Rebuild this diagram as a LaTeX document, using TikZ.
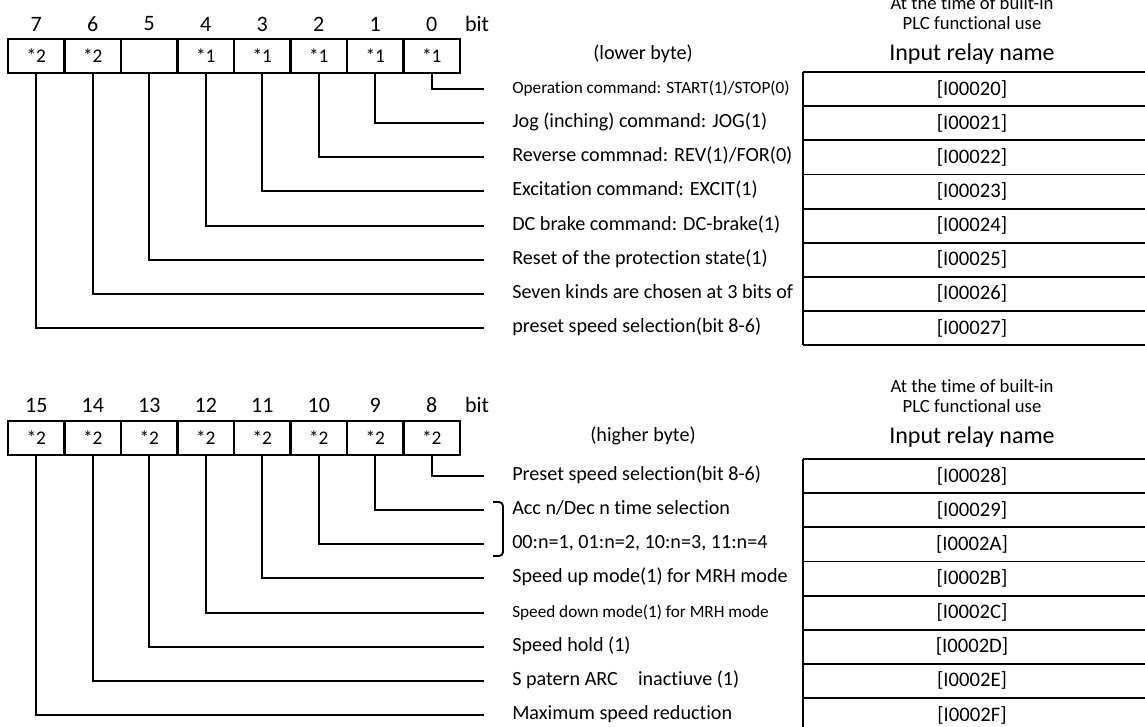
\documentclass[tikz,border=0pt]{standalone}
\usepackage{fontspec}
\setmainfont{Carlito}[Ligatures=NoCommon]
\usetikzlibrary{positioning}

\begin{document}
\begin{tikzpicture}[x=0.75pt,y=-0.75pt,
		cell/.style={rectangle,draw,line width=1.9pt,minimum width=42.4pt,minimum height=25.5pt,inner sep=0pt,font=\fontsize{14.5}{14.5}\selectfont},
		bitno/.style={font=\fontsize{16.5}{16.5}\selectfont},
		label text/.style={anchor=west,inner sep=0pt,text height=10pt,text depth=3pt,font=\fontsize{15.1}{15.1}\selectfont},
		small text/.style={label text,font=\fontsize{12.9}{12.9}\selectfont},
		relay/.style={font=\fontsize{15.5}{15.5}\selectfont},
		head/.style={align=center,font=\fontsize{14}{15.5}\selectfont},
		lead/.style={line width=1.4pt}]
		
		\useasboundingbox (0,0) rectangle (1145,727);
		\clip (0,0) rectangle (1145,727);
		
		% lower byte register
		\foreach \b/\t [count=\i from 0] in {7/*2,6/*2,5/,4/*1,3/*1,2/*1,1/*1,0/*1} {
			\node[cell] (c\b) at (36.25+56.5*\i,56) {\t};
			\node[bitno] (n\b) at (36.25+56.5*\i,24) {\b};
		}
		\node[bitno] (bitA) at (477,24) {bit};
		\node[label text,anchor=center] (lower) at (643,55) {(lower byte)};
		
		\node[small text] (l0) at (512,89) {Operation command: START(1)/STOP(0)};
		\node[label text] (l1) at (512,123) {Jog (inching) command: JOG(1)};
		\node[label text] (l2) at (512,157) {Reverse commnad: REV(1)/FOR(0)};
		\node[label text] (l3) at (512,191) {Excitation command: EXCIT(1)};
		\node[label text] (l4) at (512,226) {DC brake command: DC-brake(1)};
		\node[label text] (l5) at (512,260) {Reset of the protection state(1)};
		\node[label text] (l6) at (512,294) {Seven kinds are chosen at 3 bits of};
		\node[label text] (l7) at (512,328) {preset speed selection(bit 8-6)};
		
		\foreach \b in {0,...,7}
			\draw[lead] (c\b.south) |- ([xshift=-21pt]l\b.west);
		
		% relay names, lower byte
		\node[head] (headA) at (972,13) {At the time of built-in\\PLC functional use};
		\node[relay,font=\fontsize{18}{18}\selectfont] (nameA) at (972,54) {Input relay name};
		\foreach \k/\r in {0/20,1/21,2/22,3/23,4/24,5/25,6/26,7/27}
			\node[relay] (r\k) at (972,89+34.15*\k) {[I000\r]};
		\foreach \k in {0,...,8}
			\draw[lead] (803,72+34.15*\k) -- (1150,72+34.15*\k);
		\draw[lead] (803,72) -- (803,345.2);
		
		% higher byte register
		\foreach \b [count=\i from 0] in {15,14,13,12,11,10,9,8} {
			\node[cell] (c\b) at (36.25+56.5*\i,438) {*2};
			\node[bitno] (n\b) at (36.25+56.5*\i,405) {\b};
		}
		\node[bitno] (bitB) at (477,405) {bit};
		\node[label text,anchor=center] (higher) at (643,437) {(higher byte)};
		
		\node[label text] (l8) at (512,476) {Preset speed selection(bit 8-6)};
		\node[label text] (l9) at (512,510) {Acc n/Dec n time selection};
		\node[label text] (l10) at (512,544) {00:n=1, 01:n=2, 10:n=3, 11:n=4};
		\node[label text] (l11) at (512,578) {Speed up mode(1) for MRH mode};
		\node[small text] (l12) at (512,613) {Speed down mode(1) for MRH mode};
		\node[label text] (l13) at (512,647) {Speed hold (1)};
		\node[label text] (l14) at (512,681) {S patern ARC\quad inactiuve (1)};
		\node[label text] (l15) at (512,715) {Maximum speed reduction};
		
		\foreach \b in {8,...,15}
			\draw[lead] (c\b.south) |- ([xshift=-21pt]l\b.west);
		
		% bracket for bit 9 and 10
		\coordinate (brTop) at (493,502);
		\coordinate (brBot) at (493,556);
		\draw[lead,rounded corners=3pt] (brTop) -- ++(10,0) |- (brBot);
		
		% relay names, higher byte
		\node[head] (headB) at (972,396) {At the time of built-in\\PLC functional use};
		\node[relay,font=\fontsize{18}{18}\selectfont] (nameB) at (972,437) {Input relay name};
		\foreach \k/\r in {0/28,1/29,2/2A,3/2B,4/2C,5/2D,6/2E,7/2F}
			\node[relay] (r\k b) at (972,476+34.15*\k) {[I000\r]};
		\foreach \k in {0,...,8}
			\draw[lead] (803,459+34.15*\k) -- (1150,459+34.15*\k);
		\draw[lead] (803,459) -- (803,740);
\end{tikzpicture}
\end{document}
